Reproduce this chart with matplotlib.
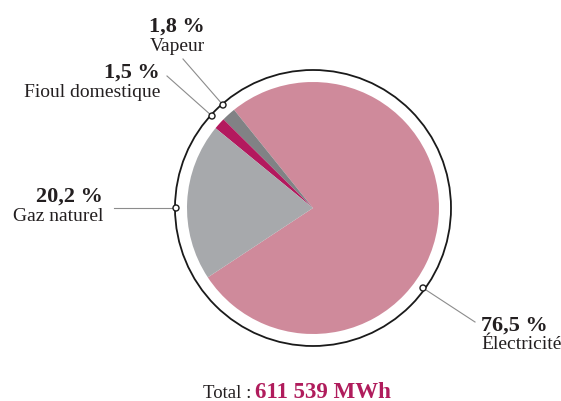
import matplotlib.pyplot as plt
import matplotlib.patches as mpatches

plt.rcParams['font.family'] = ['Liberation Serif', 'DejaVu Serif']

# data
labels = ['Électricité', 'Vapeur', 'Fioul domestique', 'Gaz naturel']
shares = [76.5, 1.8, 1.5, 20.2]
pct_text = ['76,5 %', '1,8 %', '1,5 %', '20,2 %']
colors = ['#cf8a9b', '#818285', '#b3195e', '#a7a9ac']
total_label = '611 539 MWh'

W, H = 561, 402
fig = plt.figure(figsize=(W / 100, H / 100), dpi=100)
ax = fig.add_axes([0, 0, 1, 1])


def fy(y):
    # image rows -> axis coords
    return H - y


cx, cy = 313, fy(209)
ax.pie(shares, colors=colors, startangle=-146.6, counterclock=True,
       center=(cx, cy), radius=126, frame=True,
       wedgeprops=dict(linewidth=0))
ax.set_xlim(0, W)
ax.set_ylim(0, H)
ax.set_aspect('equal')
ax.axis('off')

# outer ring
ring = mpatches.Circle((cx, cy), 138, fill=False, edgecolor='#1a1a1a', lw=1.3, zorder=3)
ax.add_patch(ring)

# leader lines: marker on ring -> end near text (pixel positions)
leaders = {
    'Électricité': ((423, 289), (475, 323)),
    'Vapeur': ((223, 106), (183, 60)),
    'Fioul domestique': ((212, 117), (167, 77)),
    'Gaz naturel': ((176, 209), (114, 209)),
}
for name, (p0, p1) in leaders.items():
    ax.plot([p0[0], p1[0]], [fy(p0[1]), fy(p1[1])], color='#8c8c8c', lw=0.8, zorder=2)
    ax.add_patch(mpatches.Circle((p0[0], fy(p0[1])), 3, facecolor='white',
                                 edgecolor='#1a1a1a', lw=1.0, zorder=4))

# labels (x, baseline of %, baseline of name, ha)
label_pos = {
    'Vapeur': (205, 32, 51, 'right'),
    'Fioul domestique': (160, 78, 97, 'right'),
    'Gaz naturel': (103, 202, 221, 'right'),
    'Électricité': (481, 331, 349, 'left'),
}
for name, pct in zip(labels, pct_text):
    x, yb1, yb2, ha = label_pos[name]
    ax.text(x, fy(yb1), pct, fontsize=16, fontweight='bold', color='#231f20',
            ha=ha, va='baseline')
    ax.text(x, fy(yb2), name, fontsize=14, color='#231f20', ha=ha, va='baseline')

ax.text(251, fy(398), 'Total :', fontsize=13.5, color='#231f20', ha='right', va='baseline')
ax.text(255, fy(398), total_label, fontsize=16.5, fontweight='bold', color='#b01c5c',
        ha='left', va='baseline')

fig.savefig('out.png', dpi=100)
